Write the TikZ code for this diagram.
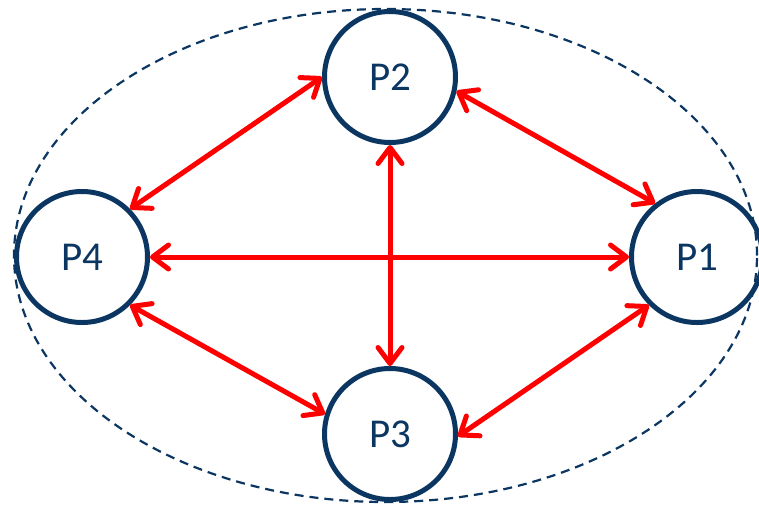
\documentclass[tikz,border=0pt]{standalone}
\usepackage{fontspec}
\setmainfont{Carlito}
\usetikzlibrary{arrows.meta}
\definecolor{procblue}{RGB}{12,54,98}

\begin{document}
\begin{tikzpicture}[x=0.5pt,y=-0.5pt,
		proc/.style={circle,draw=procblue,line width=2.5pt,minimum size=65.5pt,inner sep=0pt,
			text=procblue,font=\fontsize{20.5}{24}\selectfont},
		link/.style={red,line width=2.5pt,
			{Straight Barb[length=8pt,width=12pt,round]}-{Straight Barb[length=8pt,width=12pt,round]}}]
		\useasboundingbox (0,0) rectangle (759,504);
		\draw[procblue,line width=1.1pt,dash pattern=on 4.5pt off 3pt]
			(385.5,255.5) ellipse (185.75pt and 123.25pt);
		\node[proc] (p2) at (390,77)  {P2};
		\node[proc] (p4) at (82,257)  {P4};
		\node[proc] (p1) at (697,257) {P1};
		\node[proc] (p3) at (390,434) {P3};
		\draw[link] (p4.45)    -- (p2.180);
		\draw[link] (p2.-12)   -- (p1.128);
		\draw[link] (p2.south) -- (p3.north);
		\draw[link] (p4.east)  -- (p1.west);
		\draw[link] (p4.-45)   -- (p3.163);
		\draw[link] (p3.-2)    -- (p1.225);
		\end{tikzpicture}
\end{document}
